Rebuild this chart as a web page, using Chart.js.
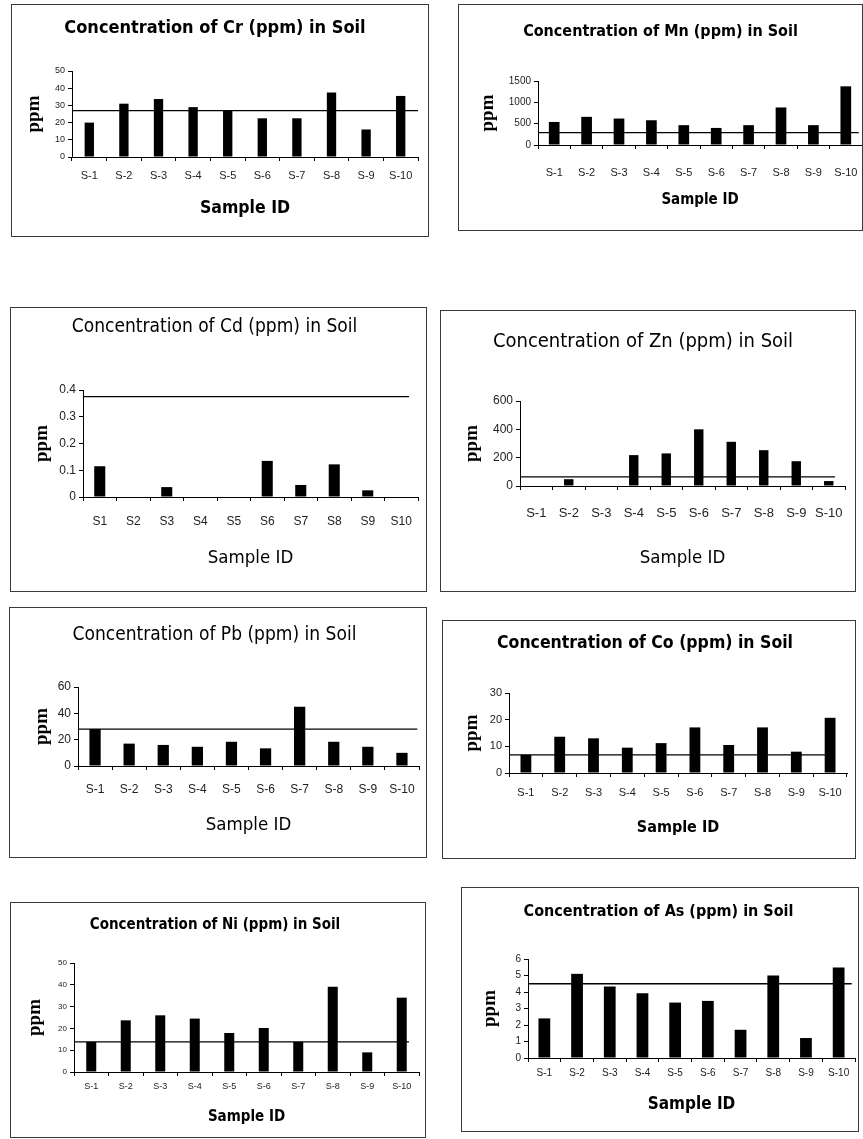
<!DOCTYPE html>
<html>
<head>
<meta charset="utf-8">
<script src="https://cdn.jsdelivr.net/npm/chart.js@4.4.0/dist/chart.umd.min.js"></script>
<style>
body { margin: 0; background: #fff; width: 863px; height: 1139px; position: relative; overflow: hidden; }
.panel { position: absolute; border: 1px solid #3a3a3a; box-sizing: border-box; background: #fff; }
.panel canvas { position: absolute; left: 0; top: 0; }
</style>
</head>
<body>
<script>
const samplesDash = ["S-1", "S-2", "S-3", "S-4", "S-5", "S-6", "S-7", "S-8", "S-9", "S-10"]
const samplesPlain = ["S1", "S2", "S3", "S4", "S5", "S6", "S7", "S8", "S9", "S10"]

const crValues = [20, 31, 33.7, 29, 27, 22.5, 22.5, 37.5, 16, 35.5]
const crLimit = 27
const crTicks = [0, 50, 10]

const mnValues = [540, 660, 620, 580, 465, 400, 465, 880, 465, 1375]
const mnLimit = 290
const mnTicks = [0, 1500, 500]

const cdValues = [0.115, 0, 0.037, 0, 0, 0.135, 0.045, 0.122, 0.025, 0]
const cdLimit = 0.375
const cdTicks = [0, 0.4, 0.1]

const znValues = [0, 48, 0, 218, 230, 400, 312, 253, 175, 35]
const znLimit = 65
const znTicks = [0, 600, 200]

const pbValues = [28, 17, 16, 14.6, 18.4, 13.4, 45, 18.4, 14.6, 10]
const pbLimit = 28
const pbTicks = [0, 60, 20]

const coValues = [6.8, 13.6, 13, 9.5, 11.2, 17.1, 10.5, 17.1, 8, 20.7]
const coLimit = 6.8
const coTicks = [0, 30, 10]

const niValues = [13.8, 23.7, 26, 24.5, 17.9, 20.2, 13.8, 39.1, 9, 34.1]
const niLimit = 13.8
const niTicks = [0, 50, 10]

const asValues = [2.4, 5.1, 4.33, 3.93, 3.36, 3.46, 1.71, 5.0, 1.21, 5.48]
const asLimit = 4.5
const asTicks = [0, 6, 1]

const narrow = "'Liberation Sans Narrow', 'DejaVu Sans Condensed', 'Liberation Sans', sans-serif"
const sans = "'Liberation Sans', Arial, sans-serif"
const serif = "'Liberation Serif', 'Times New Roman', serif"

// where each panel sits on the page; lineEnd = where the limit line stops, in category units
const panels = [
    { title: "Concentration of Cr (ppm) in Soil", labels: samplesDash, values: crValues, limit: crLimit, ticks: crTicks, lineEnd: 9.5,
      box: [11, 4, 418, 233], plot: [72, 71, 418, 157], titleY: 28, titleFs: 18, bold: true,
      tickY: 176, tickFs: 11, yTickFs: 9, xTitleY: 208, xTitleFs: 17.5, yTitleX: 34, bar: 0.27 },
    { title: "Concentration of Mn (ppm) in Soil", labels: samplesDash, values: mnValues, limit: mnLimit, ticks: mnTicks, lineEnd: 9.4,
      box: [458, 4, 405, 227], plot: [538, 81, 862, 145], titleY: 32, titleFs: 16, bold: true,
      tickY: 173, tickFs: 11, yTickFs: 10, xTitleY: 200, xTitleFs: 15, yTitleX: 488, bar: 0.33 },
    { title: "Concentration of Cd (ppm) in Soil", labels: samplesPlain, values: cdValues, limit: cdLimit, ticks: cdTicks, lineEnd: 9.23,
      box: [10, 307, 417, 285], plot: [83, 390, 418, 497], titleY: 327, titleFs: 19, bold: false,
      tickY: 522, tickFs: 12, yTickFs: 12, xTitleY: 558, xTitleFs: 18.5, yTitleX: 42, bar: 0.33 },
    { title: "Concentration of Zn (ppm) in Soil", labels: samplesDash, values: znValues, limit: znLimit, ticks: znTicks, lineEnd: 9.19,
      box: [440, 310, 416, 282], plot: [520, 401, 845, 486], titleY: 342, titleFs: 20, bold: false,
      tickY: 513, tickFs: 13, yTickFs: 12, xTitleY: 558, xTitleFs: 18.5, yTitleX: 472, bar: 0.29 },
    { title: "Concentration of Pb (ppm) in Soil", labels: samplesDash, values: pbValues, limit: pbLimit, ticks: pbTicks, lineEnd: 9.45,
      box: [9, 607, 418, 251], plot: [78, 687, 419, 766], titleY: 635, titleFs: 19, bold: false,
      tickY: 790, tickFs: 12, yTickFs: 12, xTitleY: 825, xTitleFs: 18.5, yTitleX: 42, bar: 0.33 },
    { title: "Concentration of Co (ppm) in Soil", labels: samplesDash, values: coValues, limit: coLimit, ticks: coTicks, lineEnd: 9.06,
      box: [442, 620, 414, 239], plot: [509, 693, 847, 773], titleY: 643, titleFs: 17.5, bold: true,
      tickY: 793, tickFs: 11, yTickFs: 11, xTitleY: 828, xTitleFs: 16, yTitleX: 472, bar: 0.32 },
    { title: "Concentration of Ni (ppm) in Soil", labels: samplesDash, values: niValues, limit: niLimit, ticks: niTicks, lineEnd: 9.21,
      box: [10, 902, 416, 236], plot: [74, 963, 419, 1072], titleY: 925, titleFs: 15, bold: true,
      tickY: 1087, tickFs: 9, yTickFs: 8, xTitleY: 1117, xTitleFs: 15, yTitleX: 35, bar: 0.29 },
    { title: "Concentration of As (ppm) in Soil", labels: samplesDash, values: asValues, limit: asLimit, ticks: asTicks, lineEnd: 9.4,
      box: [461, 887, 398, 245], plot: [528, 959, 855, 1058], titleY: 912, titleFs: 16, bold: true,
      tickY: 1073, tickFs: 10, yTickFs: 10, xTitleY: 1105, xTitleFs: 17, yTitleX: 490, bar: 0.36 },
]

function makePanel(p) {
    const [bx, by, bw, bh] = p.box
    const [pl, pt, pr, pb] = p.plot
    const cx = bx + 1, cy = by + 1
    const cw = bw - 2, ch = bh - 2
    const weight = p.bold ? "bold" : "normal"

    const div = document.createElement("div")
    div.className = "panel"
    div.style.left = bx + "px"
    div.style.top = by + "px"
    div.style.width = bw + "px"
    div.style.height = bh + "px"
    const canvas = document.createElement("canvas")
    canvas.width = cw
    canvas.height = ch
    div.appendChild(canvas)
    document.body.appendChild(div)

    const titleTop = p.titleY - cy - p.titleFs / 2
    const titleBottom = pt - cy - p.titleFs - titleTop
    const tickLen = 4
    const yTitleFs = 19
    // label centre sits half a line below the tick marks, so stretch the line height
    // instead of using ticks.padding (which would squeeze the plot on the right)
    const tickLine = 2 * (p.tickY - pb - tickLen) / p.tickFs

    new Chart(canvas, {
        type: "bar",
        data: {
            labels: p.labels,
            datasets: [{
                type: "line",
                xAxisID: "xl",
                yAxisID: "y",
                data: [{ x: -0.5, y: p.limit }, { x: p.lineEnd, y: p.limit }],
                borderColor: "#000",
                borderWidth: 1.3,
                pointRadius: 0,
                order: 0,
            }, {
                xAxisID: "x",
                yAxisID: "y",
                data: p.values,
                backgroundColor: "#000",
                grouped: false,
                barPercentage: p.bar,
                categoryPercentage: 1,
                order: 1,
            }]
        },
        options: {
            responsive: false,
            animation: false,
            devicePixelRatio: 1,
            layout: { padding: { left: 0, top: 0, right: cx + cw - pr, bottom: 0 } },
            plugins: {
                legend: { display: false },
                tooltip: { enabled: false },
                title: {
                    display: true,
                    text: p.title,
                    color: "#000",
                    font: { family: narrow, size: p.titleFs, weight: weight, lineHeight: 1 },
                    padding: { top: titleTop, bottom: titleBottom },
                },
            },
            scales: {
                x: {
                    type: "category",
                    offset: true,
                    grid: { drawOnChartArea: false, drawTicks: true, tickLength: tickLen, color: "#000", offset: true },
                    border: { color: "#000", width: 1 },
                    ticks: {
                        color: "#222",
                        font: { family: sans, size: p.tickFs, lineHeight: tickLine },
                        padding: 0,
                        maxRotation: 0,
                        autoSkip: false,
                    },
                    title: {
                        display: true,
                        text: "Sample ID",
                        color: "#000",
                        font: { family: narrow, size: p.xTitleFs, weight: weight, lineHeight: 1 },
                        padding: { top: 0, bottom: cy + ch - p.xTitleY - p.xTitleFs / 2 },
                    },
                    afterFit: s => { s.height = cy + ch - pb },
                },
                xl: {
                    type: "linear",
                    display: false,
                    offset: false,
                    min: -0.5,
                    max: 9.5,
                },
                y: {
                    min: p.ticks[0],
                    max: p.ticks[1],
                    grid: { drawOnChartArea: false, drawTicks: true, tickLength: tickLen, color: "#000" },
                    border: { color: "#000", width: 1 },
                    ticks: {
                        stepSize: p.ticks[2],
                        color: "#222",
                        font: { family: sans, size: p.yTickFs, lineHeight: 1 },
                        padding: 3,
                        callback: v => String(Math.round(v * 100) / 100),
                    },
                    title: {
                        display: true,
                        text: "ppm",
                        color: "#000",
                        font: { family: serif, size: yTitleFs, weight: "bold", lineHeight: 1 },
                        padding: { top: p.yTitleX - cx - yTitleFs / 2, bottom: 0 },
                    },
                    afterFit: s => { s.width = pl - cx },
                },
            },
        },
    })
}

panels.forEach(makePanel)
</script>
</body>
</html>
